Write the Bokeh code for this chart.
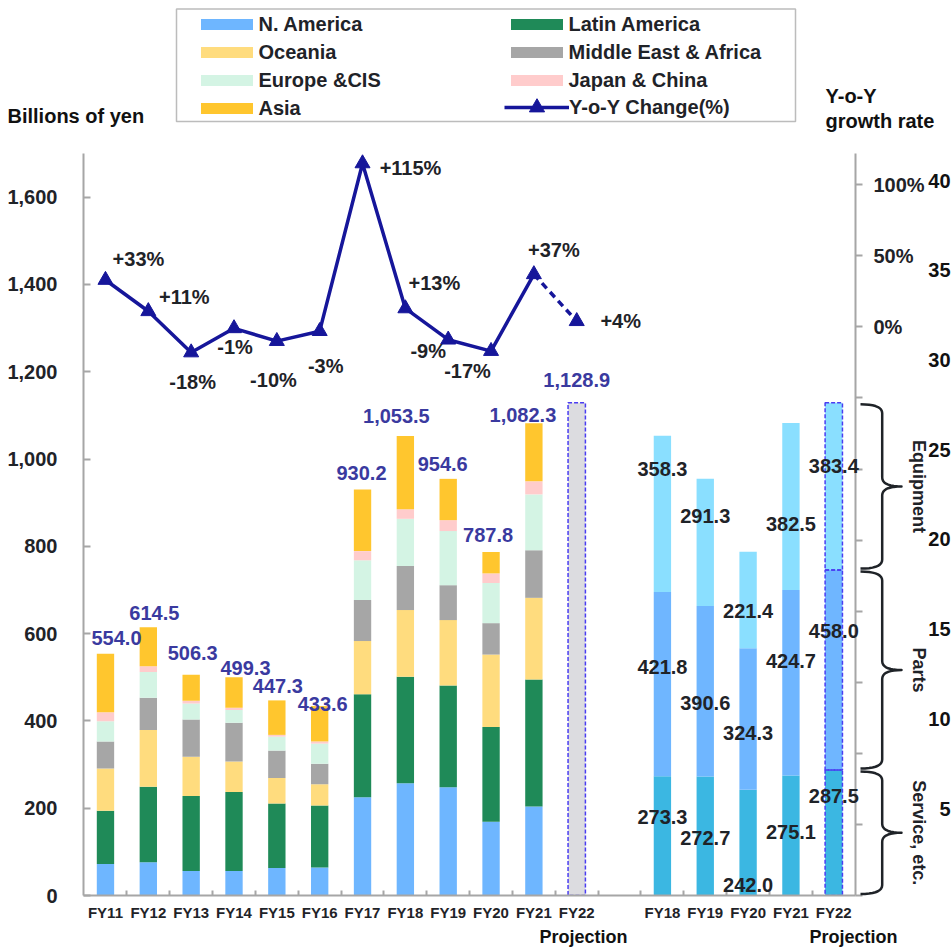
import numpy as np
from bokeh.plotting import figure
from bokeh.layouts import column
from bokeh.models import (ColumnDataSource, Range1d, LinearAxis, FixedTicker, NumeralTickFormatter,
                          Legend, LegendItem, Label, BoxAnnotation, GridBox)
from bokeh.embed import file_html
from bokeh.resources import INLINE
from bokeh.core.properties import value

# ---------------- data ----------------
years_left = ["FY11", "FY12", "FY13", "FY14", "FY15", "FY16", "FY17", "FY18", "FY19", "FY20", "FY21"]
proj_year = "FY22"
n_america = [72, 76, 56, 56, 63, 64, 225, 257, 248, 169, 204]
latin_america = [122, 173, 172, 181, 148, 142, 236, 244, 233, 217, 291]
oceania = [97, 130, 90, 70, 58, 49, 122, 153, 150, 166, 187]
me_africa = [62, 74, 85, 89, 63, 47, 94, 101, 80, 72, 109]
europe_cis = [46, 59, 37, 29, 32, 46, 91, 108, 124, 92, 128]
japan_china = [21, 13, 6, 5, 4, 5, 21, 22, 25, 22, 30]
asia = [134, 89.5, 60, 70, 79, 81, 141, 168, 94.6, 49, 133]
totals = [554.0, 614.5, 506.3, 499.3, 447.3, 433.6, 930.2, 1053.5, 954.6, 787.8, 1082.3]
proj_total = 1128.9
yoy = [33, 11, -18, -1, -10, -3, 115, 13, -9, -17, 37, 4]
yoy_text = ["+33%", "+11%", "-18%", "-1%", "-10%", "-3%", "+115%", "+13%", "-9%", "-17%", "+37%", "+4%"]

years_right = ["FY18", "FY19", "FY20", "FY21", "FY22"]
service = [273.3, 272.7, 242.0, 275.1, 287.5]
parts = [421.8, 390.6, 324.3, 424.7, 458.0]
equipment = [358.3, 291.3, 221.4, 382.5, 383.4]

left_ticks = [0, 200, 400, 600, 800, 1000, 1200, 1400, 1600]
pct_ticks = [-400, -350, -300, -250, -200, -150, -100, -50, 0, 50, 100]
pct_tick_text = {0: "0%", 50: "50%", 100: "100%"}
clipped_ticks = [400, 350, 300, 250, 200, 150, 100, 50]
clipped_text = ["40", "35", "30", "25", "20", "15", "10", "5"]

# ---------------- styles / layout ----------------
FONT = "Liberation Sans"
TXT = "#1F2328"
NAVY = "#16169A"
VAL = "#3A3A9F"
DASHC = "#4A3DF2"
AX = "#A6A6A6"
cols = ["#6EB6FF", "#1F8A58", "#FFDC7E", "#A6A6A6", "#D4F4E4", "#FFCCCC", "#FFC62E"]
names = ["N. America", "Latin America", "Oceania", "Middle East & Africa", "Europe &CIS", "Japan & China", "Asia"]
seg_cols = {"service": "#3BB7E2", "parts": "#6FB6FF", "equipment": "#8ADFFF"}
BW = 0.405

total_dx = [11, 6, 1.5, 11.5, 1, 3, -1, -9, -5.5, -3, -11, 0]
total_dy = [-16, -14.6, -21.6, -10, -14, -2, -16, -20, -15.3, -16.7, -7.7, -22.7]
g_dx = [33, 36, 1.5, 1, -3.4, 6, 48, 29, -20, -23.5, 20, 44]
g_dy = [-21, -14.6, 29, 19, 39, 35, 5, -25, 11, 19.5, -24, 0]
serv_pos = [0.657, 0.479, 0.095, 0.525, 0.789]
parts_pos = [0.593, 0.432, 0.402, 0.618, 0.694]
equip_pos = [0.789, 0.709, 0.383, 0.394, 0.623]

# page geometry (canvas starts at page origin)
W, H = 951, 950
FL, FR, FT, FB = 83, 855, 153, 895
X0, X1 = -0.513, 17.507
Y0, Y1 = 0, 1700
PCT0, PCT1 = -400, 122
R4_0, R4_1 = 1.53, 415.05


def x2px(x):
    return FL + (x - X0) / (X1 - X0) * (FR - FL)


def y2py(y, lo=Y0, hi=Y1):
    return FT + (hi - y) / (hi - lo) * (FB - FT)


def fig(**kw):
    return figure(width=W, height=H, output_backend="svg", toolbar_location=None, **kw)


p = fig(x_range=Range1d(X0, X1), y_range=Range1d(Y0, Y1),
        min_border_left=FL, min_border_right=W - FR, min_border_top=FT, min_border_bottom=H - FB)
p.extra_y_ranges = {"pct": Range1d(PCT0, PCT1)}
p.xgrid.visible = False
p.ygrid.visible = False
p.outline_line_color = None

nL = len(years_left)
left_x = list(np.arange(nL))
proj_x = nL
right_x = list(np.arange(len(years_right)) + nL + 2)

# --- left stacked bars ---
src = ColumnDataSource(dict(x=left_x, na=n_america, la=latin_america, oc=oceania, me=me_africa,
                            eu=europe_cis, jc=japan_china, asia=asia))
stack_r = p.vbar_stack(["na", "la", "oc", "me", "eu", "jc", "asia"], x="x", width=BW, color=cols,
                       line_color=None, source=src)
p.vbar(x=[proj_x], top=[proj_total], width=BW, fill_color="#DCDCE0", line_color=DASHC,
       line_dash="4 2", line_width=1.5)

# --- right stacked bars ---
serv_a = np.array(service); parts_a = np.array(parts); eq_a = np.array(equipment)
b1 = serv_a; b2 = serv_a + parts_a; b3 = b2 + eq_a
rsrc = ColumnDataSource(dict(x=right_x, s0=np.zeros(len(service)), s1=b1, s2=b2, s3=b3))
p.vbar(x="x", bottom="s0", top="s1", width=BW, color=seg_cols["service"], line_color=None, source=rsrc)
p.vbar(x="x", bottom="s1", top="s2", width=BW, color=seg_cols["parts"], line_color=None, source=rsrc)
p.vbar(x="x", bottom="s2", top="s3", width=BW, color=seg_cols["equipment"], line_color=None, source=rsrc)
k = len(service) - 1
for bot, top in [(0, b1[k]), (b1[k], b2[k]), (b2[k], b3[k])]:
    p.vbar(x=[right_x[k]], bottom=[bot], top=[top], width=BW, fill_color=None, line_color=DASHC,
           line_dash="4 2", line_width=1.5)

# --- YoY line ---
line_x = left_x + [proj_x]
p.line(x=line_x[:nL], y=yoy[:nL], y_range_name="pct", line_color=NAVY, line_width=3.5)
p.line(x=line_x[nL - 1:], y=yoy[nL - 1:], y_range_name="pct", line_color=NAVY, line_width=3.5,
       line_dash="7 5")
p.scatter(x=line_x, y=yoy, y_range_name="pct", marker="triangle", size=15, fill_color=NAVY,
          line_color=NAVY)

# --- text labels in frame ---
tsrc = ColumnDataSource(dict(x=line_x, y=totals + [proj_total],
                             t=[f"{v:,.1f}" for v in totals + [proj_total]], dx=total_dx, dy=total_dy))
p.text(x="x", y="y", text="t", x_offset="dx", y_offset="dy", source=tsrc, text_font=value(FONT),
       text_font_style="bold", text_font_size="20px", text_color=VAL, text_align="center",
       text_baseline="middle")
gsrc = ColumnDataSource(dict(x=line_x, y=yoy, t=yoy_text, dx=g_dx, dy=g_dy))
p.text(x="x", y="y", text="t", x_offset="dx", y_offset="dy", source=gsrc, y_range_name="pct",
       text_font=value(FONT), text_font_style="bold", text_font_size="20px", text_color=TXT,
       text_align="center", text_baseline="middle")

# --- axes ---
def style_axis(ax):
    ax.axis_line_color = AX
    ax.axis_line_width = 2
    ax.major_tick_line_color = AX
    ax.major_tick_line_width = 2
    ax.minor_tick_line_color = AX
    ax.minor_tick_line_width = 2
    ax.major_label_text_font = FONT
    ax.major_label_text_font_style = "bold"
    ax.major_label_text_color = TXT


ya = p.yaxis[0]
style_axis(ya)
ya.ticker = FixedTicker(ticks=left_ticks)
ya.formatter = NumeralTickFormatter(format="0,0")
ya.major_tick_in = 7
ya.major_tick_out = 0
ya.minor_tick_in = 0
ya.minor_tick_out = 0
ya.major_label_standoff = 26
ya.major_label_text_font_size = "20px"

xa = p.xaxis[0]
style_axis(xa)
centers = line_x + right_x
halves = [c + 0.5 for c in range(int(right_x[-1]))]
xa.ticker = FixedTicker(ticks=centers, minor_ticks=halves)
xa.major_label_overrides = {int(c): lab for c, lab in zip(centers, years_left + [proj_year] + years_right)}
xa.major_tick_in = 0
xa.major_tick_out = 0
xa.minor_tick_in = 5
xa.minor_tick_out = 0
xa.major_label_standoff = 8
xa.major_label_text_font_size = "15px"

ra = LinearAxis(y_range_name="pct", ticker=FixedTicker(ticks=pct_ticks),
                major_label_overrides={t: pct_tick_text.get(t, "") for t in pct_ticks})
style_axis(ra)
ra.major_tick_in = 0
ra.major_tick_out = 7
ra.minor_tick_in = 0
ra.minor_tick_out = 0
ra.major_label_standoff = 11
ra.major_label_text_font_size = "20px"
p.add_layout(ra, "right")

# ================= overlay (page-pixel coordinates) for things outside the frame =================
ov = fig(x_range=Range1d(0, W), y_range=Range1d(H, 0), x_axis_type=None, y_axis_type=None,
         min_border=0, min_border_left=0, min_border_right=0, min_border_top=0, min_border_bottom=0)
ov.xgrid.visible = False
ov.ygrid.visible = False
ov.outline_line_color = None
ov.background_fill_color = None
ov.border_fill_color = None


def olabel(txt, px, py, size="20px", align="left", color=TXT, angle=0):
    ov.add_layout(Label(x=px, y=py, text=txt, text_font=FONT, text_font_style="bold",
                        text_font_size=size, text_color=color, text_align=align,
                        text_baseline="middle", angle=angle))


olabel("Billions of yen", 7, 115, color="#111111")
olabel("Y-o-Y", 825, 95, color="#111111")
olabel("growth rate", 825, 120, color="#111111")
olabel("Projection", 583, 936, size="18px", align="center", color="#111111")
olabel("Projection", 853, 936, size="18px", align="center", color="#111111")

# right group value labels
for vals, bots, pos in [(service, np.zeros(len(service)), serv_pos), (parts, b1, parts_pos),
                        (equipment, b2, equip_pos)]:
    for i, v in enumerate(vals):
        olabel(f"{v:.1f}", x2px(right_x[i]), y2py(bots[i] + pos[i] * v), align="center")

# far-right scale labels cut by the page edge
for t, s in zip(clipped_ticks, clipped_text):
    olabel(s, W - 1, y2py(t, R4_0, R4_1), align="right", color="#111111")


# braces
def quad(p0, p1, p2, n=10):
    t = np.linspace(0, 1, n)[:, None]
    return (1 - t) ** 2 * np.array(p0) + 2 * (1 - t) * t * np.array(p1) + t ** 2 * np.array(p2)


def brace(lo, hi):
    top = y2py(hi) + 1.5
    bot = y2py(lo) - 1.5
    mid = (top + bot) / 2
    xe, xv, xt, r = 860, 881.7, 901, 9
    pts = np.vstack([
        quad((xe, top), (xv, top), (xv, top + r)),
        quad((xv, mid - r), (xv, mid), (xt, mid)),
        quad((xt, mid), (xv, mid), (xv, mid + r)),
        quad((xv, bot - r), (xv, bot), (xe, bot)),
    ])
    ov.line(x=pts[:, 0], y=pts[:, 1], line_color=TXT, line_width=2.5, line_join="round")
    return mid


seg_bounds = [(0, b1[k]), (b1[k], b2[k]), (b2[k], b3[k])]
for (lo, hi), name in zip(seg_bounds, ["Service, etc.", "Parts", "Equipment"]):
    m = brace(lo, hi)
    olabel(name, 918, m, size="18px", align="center", angle=-np.pi / 2)

# legend: proxy renderers carrying the styles (NaN data, so nothing is drawn in the plot)
NAN = [float("nan")]
items = []
for i in range(len(names)):
    r = ov.vbar(x=NAN, top=NAN, width=1, fill_color=cols[i], line_color=None)
    items.append(LegendItem(label=names[i], renderers=[r]))
leg_style = dict(glyph_width=65, label_standoff=0, margin=0, border_line_color=None,
                 background_fill_alpha=0, label_text_font=FONT, label_text_font_style="bold",
                 label_text_font_size="20px", label_text_color=TXT)
leg = Legend(items=items, orientation="horizontal", ncols=2, location=(193.5, H - 119.5),
             glyph_height=14, label_width=240, spacing=5, padding=4, **leg_style)
ov.add_layout(leg)

lr = ov.line(x=NAN, y=NAN, line_color=NAVY, line_width=3.5)
sr = ov.scatter(x=NAN, y=NAN, marker="triangle", size=15, fill_color=NAVY, line_color=NAVY)
leg2 = Legend(items=[LegendItem(label="Y-o-Y Change(%)", renderers=[lr, sr])],
              location=(504, H - 126), glyph_height=38, padding=0, spacing=0, **leg_style)
ov.add_layout(leg2)

ov.add_layout(BoxAnnotation(left=176, right=795, top=8.5, bottom=121, fill_color=None, fill_alpha=0,
                            line_color="#222222", line_width=1.5))

layout = GridBox(children=[(column(p), 0, 0), (column(ov), 0, 0)])
open("out.html", "w").write(file_html(layout, INLINE))
